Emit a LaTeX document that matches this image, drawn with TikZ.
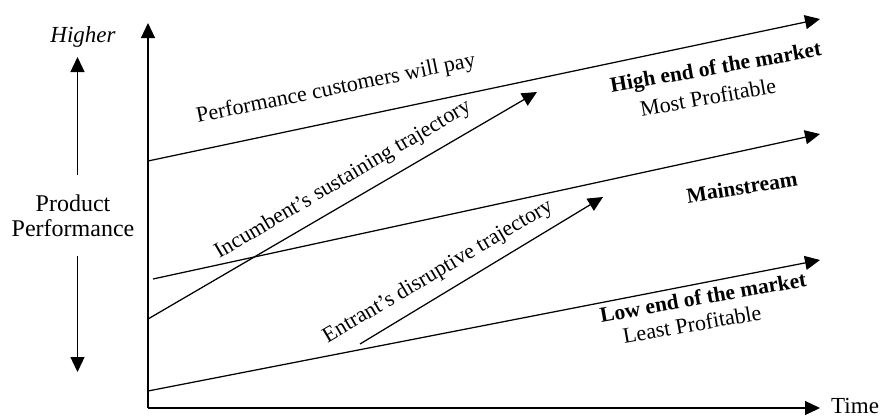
\documentclass[tikz,border=0pt]{standalone}
\usepackage{fontspec}
\setmainfont{Liberation Serif}
\usetikzlibrary{arrows.meta}
\begin{document}
\begin{tikzpicture}[x=1pt,y=-1pt,
  ln/.style={line width=1.25pt},
  arr/.style={ln,-{Triangle[length=15pt,width=14pt]}},
  lbl/.style={font=\fontsize{22}{26}\selectfont, inner sep=0pt},
  blbl/.style={font=\fontsize{21.5}{26}\selectfont\bfseries, inner sep=0pt},
  side/.style={font=\fontsize{24}{25}\selectfont, inner sep=0pt, align=center},
]
\useasboundingbox (0,0) rectangle (882,418);
% axes
\coordinate (O) at (148,408);
\coordinate (ytop) at (148,23);
\coordinate (xend) at (820,408);
\draw[arr] (O) -- (ytop);
\draw[arr] (O) -- (xend);
\node[side, anchor=west, font=\fontsize{23}{25}\selectfont] (time) at (831,405.5) {Time};
% left side labels
\coordinate (hu1) at (77.5,175);
\coordinate (hu2) at (77.5,57);
\coordinate (hd1) at (77.5,256);
\coordinate (hd2) at (77.5,372);
\draw[arr] (hu1) -- (hu2);
\draw[arr] (hd1) -- (hd2);
\node[side, font=\fontsize{23}{25}\selectfont\itshape] (higher) at (83,37) {Higher};
\node[side] (pp) at (73,216) {Product\\Performance};
% market lines
\coordinate (a1) at (148,161);
\coordinate (a2) at (820,19);
\coordinate (b1) at (153,279);
\coordinate (b2) at (820,134);
\coordinate (c1) at (148,391);
\coordinate (c2) at (820,260);
\draw[arr] (a1) -- (a2);
\draw[arr] (b1) -- (b2);
\draw[arr] (c1) -- (c2);
% trajectories
\coordinate (d1) at (148,319);
\coordinate (d2) at (537,92);
\coordinate (e1) at (360,344);
\coordinate (e2) at (603,197);
\draw[arr] (d1) -- (d2);
\draw[arr] (e1) -- (e2);
% labels
\node[lbl, rotate=11.5] (pay) at (336,89) {Performance customers will pay};
\node[lbl, rotate=30.5] (inc) at (343,180) {Incumbent’s sustaining trajectory};
\node[lbl, rotate=30.5] (ent) at (438,272) {Entrant’s disruptive trajectory};
\node[blbl, rotate=10] (high) at (716,69) {High end of the market};
\node[lbl, rotate=10] (most) at (708,97) {Most Profitable};
\node[blbl, rotate=9] (main) at (742,187) {Mainstream};
\node[blbl, rotate=10] (low) at (703,297) {Low end of the market};
\node[lbl, rotate=10] (least) at (692,324) {Least Profitable};
\end{tikzpicture}
\end{document}
